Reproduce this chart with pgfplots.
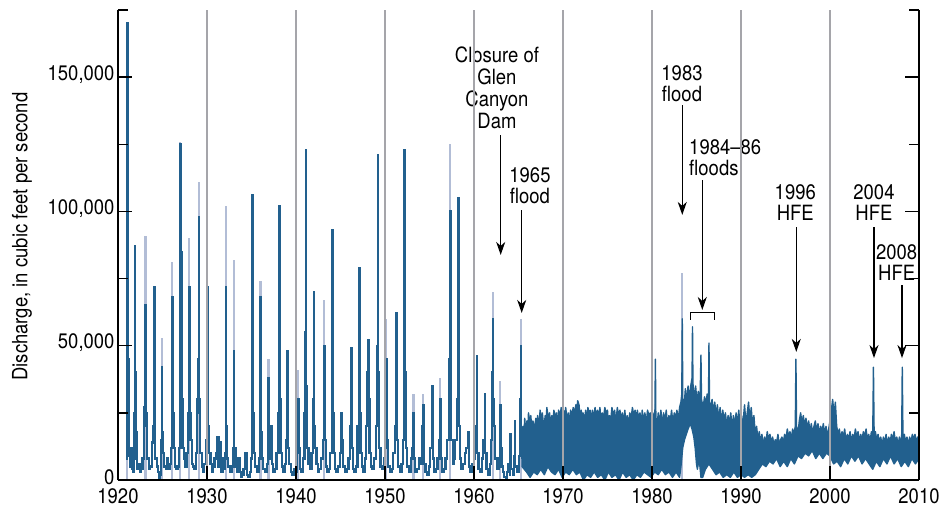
\documentclass[border=0pt]{standalone}
\usepackage{fontspec}
\setmainfont{TeX Gyre Heros}[FakeStretch=0.88]
\usepackage{pgfplots}
\pgfplotsset{compat=1.18}
\usetikzlibrary{arrows.meta}

\definecolor{flow}{RGB}{34,96,142}
\definecolor{flowlight}{RGB}{178,189,214}
\definecolor{gridgray}{RGB}{165,165,170}
\newcommand{\lbl}{\fontsize{21bp}{21.7bp}\selectfont}

\begin{document}
\begin{tikzpicture}
\begin{axis}[
  name=ax,
  scale only axis,
  width=801bp, height=470bp,
  xmin=1920, xmax=2010,
  ymin=0, ymax=175000,
  axis x line*=bottom,
  axis y line*=box,
  axis on top,
  axis line style={line width=1.3bp, black},
  xtick={1920,1930,...,2010},
  ytick={0,50000,100000,150000},
  minor ytick={25000,75000,125000,175000},
  xtick pos=bottom,
  ytick pos=both,
  yticklabel pos=left,
  tick align=inside,
  major tick length=14bp,
  minor tick length=10bp,
  tick style={line width=1.3bp, black},
  xmajorgrids,
  major x grid style={line width=1.6bp, gridgray},
  scaled y ticks=false,
  tick label style={font=\lbl},
  /pgf/number format/assume math mode=true,
  yticklabel style={/pgf/number format/fixed, /pgf/number format/precision=0, /pgf/number format/1000 sep={,}, yshift=3bp},
  xticklabel style={/pgf/number format/fixed, /pgf/number format/1000 sep=, yshift=-5bp},
  ylabel={Discharge, in cubic feet per second},
  ylabel style={font=\lbl, at={(axis description cs:-0.1199,0.518)}, anchor=center},
]

% lighter tops of some peaks
\addplot[ycomb, flowlight, line width=2.2bp, mark=none] coordinates {
(1921.03,52000) (1923.10,91000) (1924.90,53000) (1926.10,81000) (1927.00,126000)
(1928.00,90000) (1929.10,111000) (1932.10,102000) (1933.00,82000) (1936.00,74000)
(1936.90,45000) (1940.25,41000) (1943.15,67000) (1950.15,60000) (1953.20,32000)
(1954.30,32000) (1956.20,38000) (1957.30,125000) (1962.10,70000) (1962.95,37000)
(1965.28,60000) (1983.40,77000)
};

% daily discharge before the dam
\addplot[const plot, flow, line width=2.2bp, mark=none] coordinates {
(1920.95,8000) (1921.00,30000) (1921.03,60000) (1921.05,170000) (1921.08,120000) (1921.12,45000)
(1921.18,20000) (1921.25,9000) (1921.35,5000) (1921.45,12000) (1921.55,4000) (1921.70,3000)
(1921.80,8000) (1921.86,25000) (1921.90,87000) (1921.94,40000) (1922.00,18000) (1922.08,10000)
(1922.15,4000) (1922.30,6000) (1922.45,3000) (1922.60,4000) (1922.75,8000) (1922.90,20000)
(1922.98,27000) (1923.05,30000) (1923.10,65000) (1923.14,25000) (1923.22,18000) (1923.30,8000)
(1923.45,4000) (1923.60,5000) (1923.80,14000) (1923.95,20000) (1924.03,35000) (1924.06,72000)
(1924.10,20000) (1924.20,8000) (1924.35,5000) (1924.50,3000) (1924.60,0) (1924.70,2000)
(1924.85,15000) (1924.90,42000) (1924.95,18000) (1925.05,10000) (1925.20,5000) (1925.35,4000)
(1925.50,8000) (1925.65,4000) (1925.80,6000) (1925.95,12000) (1926.05,30000) (1926.10,68000)
(1926.15,25000) (1926.25,12000) (1926.40,5000) (1926.55,4000) (1926.70,5000) (1926.85,12000)
(1926.95,40000) (1927.00,90000) (1927.03,125000) (1927.06,45000) (1927.10,85000) (1927.14,30000)
(1927.25,12000) (1927.40,8000) (1927.55,5000) (1927.70,10000) (1927.85,25000) (1927.95,40000)
(1928.00,72000) (1928.05,25000) (1928.15,15000) (1928.30,6000) (1928.45,5000) (1928.60,4000)
(1928.75,10000) (1928.90,30000) (1929.00,25000) (1929.05,45000) (1929.10,98000) (1929.14,30000)
(1929.25,10000) (1929.40,5000) (1929.55,3000) (1929.70,6000) (1929.85,15000) (1930.00,25000)
(1930.10,72000) (1930.15,20000) (1930.25,10000) (1930.40,6000) (1930.55,3000) (1930.70,5000)
(1930.85,8000) (1931.00,10000) (1931.15,16000) (1931.30,5000) (1931.45,14000) (1931.60,3000)
(1931.75,8000) (1931.90,4000) (1932.00,10000) (1932.10,72000) (1932.14,20000) (1932.25,8000)
(1932.40,5000) (1932.55,3000) (1932.75,5000) (1932.90,12000) (1933.00,48000) (1933.05,12000)
(1933.20,5000) (1933.35,3000) (1933.50,8000) (1933.65,3000) (1933.80,1000) (1933.95,2000)
(1934.10,4000) (1934.30,10000) (1934.45,2000) (1934.60,1000) (1934.80,3000) (1934.95,8000)
(1935.05,20000) (1935.10,106000) (1935.14,25000) (1935.25,10000) (1935.40,5000) (1935.60,3000)
(1935.80,8000) (1935.95,20000) (1936.00,68000) (1936.04,18000) (1936.15,8000) (1936.30,4000)
(1936.50,3000) (1936.70,6000) (1936.85,15000) (1936.90,38000) (1936.94,12000) (1937.05,8000)
(1937.20,20000) (1937.30,6000) (1937.45,3000) (1937.60,4000) (1937.80,10000) (1937.95,25000)
(1938.05,40000) (1938.10,102000) (1938.14,30000) (1938.25,10000) (1938.40,5000) (1938.55,3000)
(1938.75,6000) (1938.90,15000) (1939.00,48000) (1939.04,12000) (1939.20,6000) (1939.40,3000)
(1939.60,2000) (1939.80,4000) (1939.95,3000) (1940.10,10000) (1940.25,30000) (1940.30,12000)
(1940.45,4000) (1940.60,3000) (1940.80,8000) (1940.95,25000) (1941.05,55000) (1941.10,123000)
(1941.14,35000) (1941.25,12000) (1941.40,6000) (1941.55,4000) (1941.75,10000) (1941.90,30000)
(1942.00,70000) (1942.04,20000) (1942.15,12000) (1942.30,6000) (1942.45,3000) (1942.60,4000)
(1942.80,8000) (1943.00,15000) (1943.15,50000) (1943.20,15000) (1943.35,5000) (1943.50,3000)
(1943.70,4000) (1943.85,10000) (1944.00,30000) (1944.10,93000) (1944.14,25000) (1944.25,10000)
(1944.40,4000) (1944.55,3000) (1944.75,5000) (1944.90,10000) (1945.05,25000) (1945.15,15000)
(1945.30,5000) (1945.50,3000) (1945.70,4000) (1945.90,8000) (1946.05,20000) (1946.20,49000)
(1946.25,12000) (1946.40,4000) (1946.55,3000) (1946.75,5000) (1946.90,20000) (1947.05,40000)
(1947.10,79000) (1947.14,25000) (1947.25,10000) (1947.40,5000) (1947.55,3000) (1947.75,8000)
(1947.90,20000) (1948.00,40000) (1948.10,52000) (1948.15,30000) (1948.25,10000) (1948.40,5000)
(1948.60,4000) (1948.80,8000) (1948.95,20000) (1949.10,50000) (1949.20,121000) (1949.25,40000)
(1949.35,12000) (1949.50,5000) (1949.70,4000) (1949.85,8000) (1950.00,12000) (1950.15,45000)
(1950.22,15000) (1950.35,5000) (1950.55,3000) (1950.75,4000) (1950.90,10000) (1951.10,20000)
(1951.30,62000) (1951.35,15000) (1951.50,5000) (1951.65,3000) (1951.85,6000) (1952.00,15000)
(1952.15,50000) (1952.20,123000) (1952.25,40000) (1952.35,12000) (1952.50,5000) (1952.70,3000)
(1952.90,8000) (1953.05,12000) (1953.20,25000) (1953.25,8000) (1953.40,3000) (1953.60,4000)
(1953.80,8000) (1954.00,6000) (1954.20,20000) (1954.30,28000) (1954.35,6000) (1954.55,3000)
(1954.75,2000) (1954.90,5000) (1955.10,12000) (1955.30,35000) (1955.35,8000) (1955.50,3000)
(1955.70,4000) (1955.90,8000) (1956.10,15000) (1956.20,30000) (1956.25,8000) (1956.40,3000)
(1956.60,4000) (1956.80,8000) (1957.00,15000) (1957.15,45000) (1957.30,100000) (1957.35,40000)
(1957.45,15000) (1957.60,6000) (1957.75,8000) (1957.90,15000) (1958.05,30000) (1958.20,105000)
(1958.25,20000) (1958.40,8000) (1958.55,4000) (1958.75,6000) (1958.95,10000) (1959.10,12000)
(1959.30,18000) (1959.40,5000) (1959.60,3000) (1959.80,6000) (1960.00,8000) (1960.15,20000)
(1960.30,46000) (1960.35,10000) (1960.50,4000) (1960.70,3000) (1960.90,8000) (1961.05,15000)
(1961.20,32000) (1961.25,10000) (1961.40,4000) (1961.60,2000) (1961.80,6000) (1961.95,15000)
(1962.05,40000) (1962.10,60000) (1962.15,30000) (1962.25,20000) (1962.40,8000) (1962.55,4000)
(1962.75,8000) (1962.90,25000) (1962.95,28000) (1963.00,12000) (1963.10,5000) (1963.25,3000)
(1963.40,1000) (1963.55,0) (1963.70,3000) (1963.85,6000) (1964.00,2000) (1964.08,17000)
(1964.14,4000) (1964.35,2000) (1964.50,9000) (1964.58,22000) (1964.64,5000) (1964.85,3000)
(1965.05,9000) (1965.15,18000) (1965.22,30000) (1965.28,50000) (1965.32,14000) (1965.40,8000)
};

% fluctuating releases after the dam: upper envelope, then lower envelope back
\addplot[flow, fill=flow, line width=1.4bp, line join=round, mark=none] coordinates {
(1965.40,12000) (1965.50,20000) (1965.58,15000) (1965.70,23000) (1965.80,18000) (1965.95,22000)
(1966.05,16000) (1966.12,25000) (1966.30,21000) (1966.38,24000) (1966.55,17000) (1966.62,22000)
(1966.80,19000) (1966.95,23000) (1967.02,16000) (1967.15,24000) (1967.35,20000) (1967.42,26000)
(1967.60,22000) (1967.68,25000) (1967.85,19000) (1968.00,24000) (1968.10,21000) (1968.18,27000)
(1968.35,23000) (1968.50,25000) (1968.58,20000) (1968.75,24000) (1968.90,22000) (1968.97,26000)
(1969.15,23000) (1969.25,25000) (1969.40,20000) (1969.50,26000) (1969.68,24000) (1969.80,27000)
(1969.95,21000) (1970.05,26000) (1970.20,23000) (1970.30,27000) (1970.48,22000) (1970.60,25000)
(1970.75,20000) (1970.85,26000) (1971.00,24000) (1971.15,27000) (1971.30,25000) (1971.45,28000)
(1971.55,26000) (1971.65,29500) (1971.80,28000) (1971.90,24000) (1972.05,26000) (1972.15,20000)
(1972.25,25000) (1972.40,22000) (1972.55,26000) (1972.65,21000) (1972.80,27000) (1972.95,24000)
(1973.05,26000) (1973.20,21000) (1973.30,26000) (1973.45,23000) (1973.60,27000) (1973.75,22000)
(1973.85,26000) (1974.00,24000) (1974.15,27000) (1974.30,20000) (1974.40,25000) (1974.55,23000)
(1974.70,27000) (1974.85,25000) (1975.00,26000) (1975.10,19000) (1975.20,24000) (1975.35,22000)
(1975.50,27000) (1975.65,24000) (1975.80,26000) (1975.95,21000) (1976.10,27000) (1976.25,24000)
(1976.40,26000) (1976.55,20000) (1976.65,25000) (1976.80,22000) (1976.95,26000) (1977.10,19000)
(1977.20,24000) (1977.35,21000) (1977.50,25000) (1977.65,23000) (1977.80,27000) (1977.95,24000)
(1978.10,26000) (1978.25,21000) (1978.35,26000) (1978.50,23000) (1978.65,25000) (1978.80,20000)
(1978.90,26000) (1979.05,22000) (1979.20,25000) (1979.35,21000) (1979.50,26000) (1979.65,24000)
(1979.80,25000) (1979.95,21000) (1980.10,25000) (1980.25,22000) (1980.33,26000) (1980.38,45000)
(1980.43,24000) (1980.55,19000) (1980.70,25000) (1980.85,21000) (1981.00,26000) (1981.15,20000)
(1981.30,25000) (1981.45,22000) (1981.60,26000) (1981.75,20000) (1981.90,24000) (1982.05,22000)
(1982.20,26000) (1982.35,21000) (1982.50,25000) (1982.65,23000) (1982.80,26000) (1982.95,22000)
(1983.10,27000) (1983.25,29000) (1983.35,32000) (1983.40,60000) (1983.46,30000) (1983.60,27000)
(1983.75,34000) (1983.90,29000) (1984.05,35000) (1984.20,28000) (1984.30,34000) (1984.50,38000)
(1984.55,57000) (1984.60,36000) (1984.75,30000) (1984.90,35000) (1985.05,29000) (1985.20,33000)
(1985.40,30000) (1985.50,46500) (1985.56,30000) (1985.75,27000) (1985.90,31000) (1986.05,28000)
(1986.20,32000) (1986.35,30000) (1986.40,51000) (1986.46,29000) (1986.60,27000) (1986.75,30000)
(1986.90,25000) (1987.05,29000) (1987.20,24000) (1987.35,28000) (1987.50,22000) (1987.65,27000)
(1987.80,21000) (1987.95,26000) (1988.10,22000) (1988.25,25000) (1988.40,20000) (1988.55,24000)
(1988.70,21000) (1988.85,25000) (1989.00,19000) (1989.15,24000) (1989.30,20000) (1989.45,25000)
(1989.60,21000) (1989.75,26000) (1989.90,19000) (1990.05,24000) (1990.20,20000) (1990.40,28000)
(1990.55,21000) (1990.70,25000) (1990.85,29000) (1991.00,22000) (1991.15,27000) (1991.30,20000)
(1991.45,24000) (1991.60,17000) (1991.75,20000) (1991.90,15000) (1992.05,18000) (1992.20,14000)
(1992.35,17000) (1992.50,13000) (1992.65,16000) (1992.80,14000) (1992.95,18000) (1993.10,15000)
(1993.25,17000) (1993.40,14000) (1993.55,16000) (1993.70,13000) (1993.85,15000) (1994.00,14000)
(1994.15,17000) (1994.30,13000) (1994.45,15000) (1994.60,16000) (1994.75,14000) (1994.90,17000)
(1995.05,15000) (1995.20,19000) (1995.35,16000) (1995.50,18000) (1995.65,15000) (1995.80,19000)
(1995.95,17000) (1996.10,20000) (1996.17,45000) (1996.24,20000) (1996.40,17000) (1996.55,22000)
(1996.70,25000) (1996.85,21000) (1997.00,24000) (1997.15,20000) (1997.30,23000) (1997.45,19000)
(1997.60,22000) (1997.75,18000) (1997.90,21000) (1998.05,17000) (1998.20,20000) (1998.35,22000)
(1998.50,18000) (1998.65,21000) (1998.80,17000) (1998.95,20000) (1999.10,18000) (1999.25,21000)
(1999.40,17000) (1999.55,20000) (1999.70,16000) (1999.85,19000) (2000.00,22000) (2000.15,26000)
(2000.30,30000) (2000.45,24000) (2000.60,29000) (2000.75,20000) (2000.90,17000) (2001.05,19000)
(2001.20,15000) (2001.35,18000) (2001.50,16000) (2001.65,19000) (2001.80,14000) (2001.95,17000)
(2002.10,15000) (2002.25,18000) (2002.40,14000) (2002.55,17000) (2002.70,15000) (2002.85,19000)
(2003.00,16000) (2003.15,18000) (2003.30,14000) (2003.45,17000) (2003.60,15000) (2003.75,18000)
(2003.90,16000) (2004.05,19000) (2004.20,15000) (2004.35,17000) (2004.50,14000) (2004.65,18000)
(2004.80,16000) (2004.88,42000) (2004.96,16000) (2005.10,18000) (2005.25,15000) (2005.40,17000)
(2005.55,14000) (2005.70,16000) (2005.85,13000) (2006.00,16000) (2006.15,14000) (2006.30,17000)
(2006.45,13000) (2006.60,16000) (2006.75,14000) (2006.90,17000) (2007.05,15000) (2007.20,18000)
(2007.35,14000) (2007.50,16000) (2007.65,13000) (2007.80,16000) (2007.95,14000) (2008.05,15000)
(2008.12,42000) (2008.20,15000) (2008.35,17000) (2008.50,14000) (2008.65,16000) (2008.80,13000)
(2008.95,16000) (2009.10,14000) (2009.25,17000) (2009.40,15000) (2009.55,17000) (2009.70,14000)
(2009.85,16000) (2010.00,15000)
(2010.00,8000) (2009.60,6000) (2009.20,8000) (2008.80,5000) (2008.40,7000) (2008.00,5000)
(2007.60,8000) (2007.20,6000) (2006.80,9000) (2006.40,6000) (2006.00,8000) (2005.60,5000)
(2005.20,7000) (2004.80,4000) (2004.40,6000) (2004.00,8000) (2003.60,6000) (2003.20,9000)
(2002.80,7000) (2002.40,9000) (2002.00,6000) (2001.60,8000) (2001.20,5000) (2000.80,7000)
(2000.40,6000) (2000.00,9000) (1999.60,10000) (1999.20,8000) (1998.80,10000) (1998.40,8000)
(1998.00,11000) (1997.60,9000) (1997.20,10000) (1996.80,8000) (1996.40,9000) (1996.00,6000)
(1995.60,8000) (1995.20,5000) (1994.80,7000) (1994.40,5000) (1994.00,8000) (1993.60,6000)
(1993.20,7000) (1992.80,5000) (1992.40,6000) (1992.00,4000) (1991.60,2000) (1991.20,1000)
(1990.80,2000) (1990.40,1000) (1990.00,2000) (1989.60,1000) (1989.20,3000) (1988.80,1000)
(1988.40,2000) (1988.00,1000) (1987.60,3000) (1987.20,2000) (1986.80,4000) (1986.40,6000)
(1986.00,4000) (1985.70,1000) (1985.50,1000) (1985.30,8000) (1985.10,4000) (1985.00,6000)
(1984.85,12000) (1984.70,16000) (1984.50,19000) (1984.30,21000) (1984.05,19000) (1983.85,17000)
(1983.65,15000) (1983.45,12000) (1983.25,5000) (1983.10,1000) (1982.70,3000) (1982.30,1000)
(1981.90,3000) (1981.50,2000) (1981.10,4000) (1980.70,2000) (1980.30,3000) (1979.90,1000)
(1979.50,2000) (1979.10,3000) (1978.70,1000) (1978.30,2000) (1977.90,0) (1977.50,2000)
(1977.10,1000) (1976.70,3000) (1976.30,0) (1975.90,2000) (1975.50,1000) (1975.10,3000)
(1974.70,0) (1974.30,2000) (1973.90,1000) (1973.50,3000) (1973.10,1000) (1972.70,2000)
(1972.30,0) (1971.90,3000) (1971.50,2000) (1971.10,4000) (1970.70,2000) (1970.30,3000)
(1969.90,1000) (1969.50,4000) (1969.10,2000) (1968.70,3000) (1968.30,5000) (1967.90,2000)
(1967.50,4000) (1967.10,2000) (1966.70,3000) (1966.30,1000) (1965.90,3000) (1965.40,5000)
} -- cycle;

% annotations
\begin{scope}[every node/.style={font=\lbl, inner sep=0pt, text=black},
  arr/.style={-{Stealth[length=13bp, width=9bp, inset=4bp]}, line width=1.2bp, black}]
\node[align=center, anchor=north] at (axis cs:1962.58,161200) {Closure of\\Glen\\Canyon\\Dam};
\draw[arr] (axis cs:1963.0,128400) -- (axis cs:1963.0,83800);
\node[align=center, anchor=north] at (axis cs:1966.29,116500) {1965\\flood};
\draw[arr] (axis cs:1965.36,100500) -- (axis cs:1965.36,62200);
\node[align=center, anchor=north] at (axis cs:1983.37,154500) {1983\\flood};
\draw[arr] (axis cs:1983.40,139600) -- (axis cs:1983.40,98700);
\node[align=left, anchor=north west] at (axis cs:1984.16,127000) {1984--86\\floods};
\draw[arr] (axis cs:1985.65,111700) -- (axis cs:1985.65,63300);
\draw[line width=1.2bp, black] (axis cs:1984.29,59600) -- (axis cs:1984.29,62300)
  -- (axis cs:1987.02,62300) -- (axis cs:1987.02,59600);
\node[align=center, anchor=north] at (axis cs:1996.10,110200) {1996\\HFE};
\draw[arr] (axis cs:1996.21,94200) -- (axis cs:1996.21,47700);
\node[align=center, anchor=north] at (axis cs:2004.94,110200) {2004\\HFE};
\draw[arr] (axis cs:2004.94,94200) -- (axis cs:2004.94,45400);
\node[align=center, anchor=north] at (axis cs:2007.49,87900) {2008\\HFE};
\draw[arr] (axis cs:2008.09,72600) -- (axis cs:2008.09,45400);
\end{scope}
\end{axis}
\pgfresetboundingbox
\path[use as bounding box] ([xshift=-118bp,yshift=-32bp]ax.south west) rectangle ([xshift=20bp,yshift=10bp]ax.north east);
\end{tikzpicture}
\end{document}
